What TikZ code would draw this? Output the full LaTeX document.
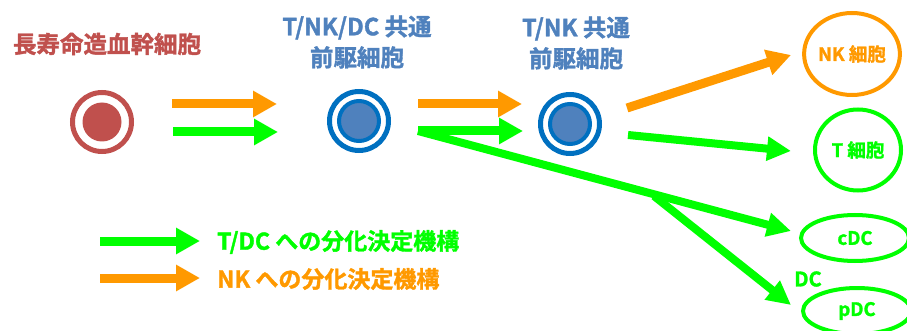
\documentclass[tikz,border=0pt]{standalone}
\usepackage{fontspec}
\setmainfont{Noto Sans CJK JP}[UprightFont={* Bold},UprightFeatures={FakeBold=1.5}]
\usetikzlibrary{arrows.meta,shapes.geometric}
\definecolor{cred}{HTML}{C0504D}
\definecolor{cblue}{HTML}{4F81BD}
\definecolor{cring}{HTML}{0070C0}
\definecolor{corange}{HTML}{FF9900}
\definecolor{cgreen}{HTML}{00FF00}
\tikzset{
  fat/.style={line width=9pt,-{Triangle[length=24pt,width=25pt]}},
  slim/.style={line width=8pt,-{Triangle[length=24pt,width=23pt]}},
  ttl/.style={font=\fontsize{23.5pt}{31pt}\selectfont,align=center,inner sep=0pt},
  lbl/.style={font=\fontsize{18.5pt}{20pt}\selectfont,inner sep=0pt},
  leg/.style={font=\fontsize{23pt}{24pt}\selectfont,inner sep=0pt,anchor=west},
  ring/.style={circle,line width=5pt,minimum size=59pt,inner sep=0pt},
}
\begin{document}
\begin{tikzpicture}[x=1pt,y=-1pt]
\useasboundingbox (0,0) rectangle (907,331);
\clip (0,0) rectangle (907,331);
% titles
\node[ttl,text=cred] (t1) at (107,44) {長寿命造血幹細胞};
\node[ttl,text=cblue] (t2) at (357,42) {T/NK/DC 共通\\前駆細胞};
\node[ttl,text=cblue] (t3) at (576,43) {T/NK 共通\\前駆細胞};
% cells
\node[ring,draw=cred] (hsc) at (102,122) {};
\node[circle,fill=cred,minimum size=39pt,inner sep=0pt] (hsci) at (102,122) {};
\node[ring,draw=cring] (tnkdc) at (359,121) {};
\node[circle,fill=cblue,draw=cring,line width=4pt,minimum size=40pt,inner sep=0pt] (tnkdci) at (359,121) {};
\node[ring,draw=cring] (tnk) at (570,124) {};
\node[circle,fill=cblue,draw=cring,line width=4pt,minimum size=40pt,inner sep=0pt] (tnki) at (570,124) {};
% targets
\node[ellipse,draw=corange,line width=4pt,minimum width=86pt,minimum height=82pt,inner sep=0pt,text=corange,lbl] (nk) at (852,54) {NK 細胞};
\node[ellipse,draw=cgreen,line width=4pt,minimum width=86pt,minimum height=81pt,inner sep=0pt,text=cgreen,lbl] (tc) at (858,150) {T 細胞};
\node[ellipse,draw=cgreen,line width=4pt,minimum width=108pt,minimum height=46pt,inner sep=0pt,text=cgreen,lbl] (cdc) at (855,238) {cDC};
\node[ellipse,draw=cgreen,line width=4pt,minimum width=108pt,minimum height=46pt,inner sep=0pt,text=cgreen,lbl] (pdc) at (857,311) {pDC};
\node[lbl,text=cgreen,font=\fontsize{20pt}{20pt}\selectfont] (dc) at (808,279) {DC};
% connector coordinates
\coordinate (a1o) at (172,104); \coordinate (b1o) at (277,104);
\coordinate (a1g) at (173,132); \coordinate (b1g) at (278,132);
\coordinate (a2o) at (418,104); \coordinate (b2o) at (522,104);
\coordinate (a2g) at (418,131); \coordinate (b2g) at (523,131);
\coordinate (a3o) at (627,108); \coordinate (b3o) at (791,55);
\coordinate (a3g) at (628,135); \coordinate (b3g) at (791,151);
\coordinate (br) at (654,196);
\coordinate (bc) at (791,231);
\coordinate (bp) at (791,305);
% arrows
\draw[fat,corange] (a1o) -- (b1o);
\draw[fat,cgreen] (a1g) -- (b1g);
\draw[fat,corange] (a2o) -- (b2o);
\draw[fat,cgreen] (a2g) -- (b2g);
\draw[fat,corange] (a3o) -- (b3o);
\draw[slim,cgreen] (a3g) -- (b3g);
\draw[slim,cgreen] (a2g) -- (bc);
\draw[slim,cgreen] (br) -- (bp);
% legend
\coordinate (lg1) at (100,241); \coordinate (lg2) at (200,241);
\coordinate (lo1) at (100,278); \coordinate (lo2) at (200,278);
\draw[fat,cgreen] (lg1) -- (lg2);
\draw[fat,corange] (lo1) -- (lo2);
\node[leg,text=cgreen] (lgt) at (217,242) {T/DC への分化決定機構};
\node[leg,text=corange] (lot) at (217,279) {NK への分化決定機構};
\end{tikzpicture}
\end{document}
